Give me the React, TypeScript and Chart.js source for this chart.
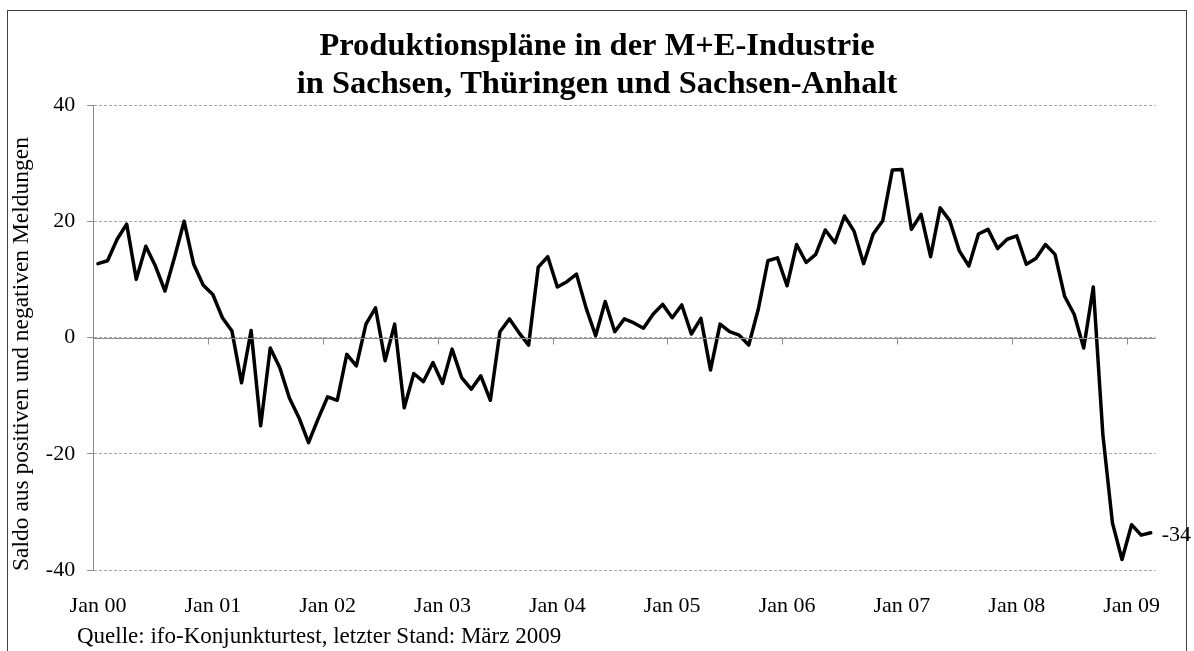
import React, { useEffect, useRef } from "react";
import { Chart, registerables } from "chart.js";

Chart.register(...registerables);

const monthNames = ["Jan", "Feb", "Mrz", "Apr", "Mai", "Jun", "Jul", "Aug", "Sep", "Okt", "Nov", "Dez"];
const yearNames = ["00", "01", "02", "03", "04", "05", "06", "07", "08", "09"];
const tickLabels = ["Jan 00", "Jan 01", "Jan 02", "Jan 03", "Jan 04", "Jan 05", "Jan 06", "Jan 07", "Jan 08", "Jan 09"];

const values2000 = [12.7, 13.2, 16.9, 19.5, 10.0, 15.7, 12.3, 8.0, 13.8, 20.0, 12.6, 9.0];
const values2001 = [7.4, 3.4, 1.1, -7.8, 1.2, -15.2, -1.8, -5.2, -10.4, -13.8, -18.1, -14.0];
const values2002 = [-10.2, -10.8, -2.9, -4.9, 2.3, 5.1, -4.0, 2.3, -12.1, -6.2, -7.6, -4.3];
const values2003 = [-7.9, -2.0, -6.9, -8.9, -6.6, -10.8, 1.0, 3.2, 0.8, -1.3, 12.1, 13.9];
const values2004 = [8.7, 9.6, 10.9, 5.1, 0.3, 6.2, 1.0, 3.2, 2.5, 1.6, 4.0, 5.7];
const values2005 = [3.4, 5.6, 0.6, 3.3, -5.6, 2.3, 1.0, 0.4, -1.3, 4.9, 13.2, 13.7];
const values2006 = [8.9, 16.0, 12.9, 14.3, 18.5, 16.3, 20.9, 18.3, 12.7, 17.8, 20.1, 28.8];
const values2007 = [28.9, 18.6, 21.2, 13.9, 22.3, 20.1, 14.9, 12.3, 17.8, 18.6, 15.3, 16.9];
const values2008 = [17.5, 12.6, 13.6, 16.0, 14.3, 7.1, 4.0, -1.8, 8.7, -16.7, -31.9, -38.2];
const values2009 = [-32.2, -34.0, -33.6];

const seriesValues = [
  ...values2000, ...values2001, ...values2002, ...values2003, ...values2004,
  ...values2005, ...values2006, ...values2007, ...values2008, ...values2009,
];
const categories = yearNames
  .flatMap((y) => monthNames.map((m) => `${m} ${y}`))
  .slice(0, seriesValues.length);

const titleLines = ["Produktionspläne in der M+E-Industrie", "in Sachsen, Thüringen und Sachsen-Anhalt"];
const yAxisTitle = "Saldo aus positiven und negativen Meldungen";
const sourceNote = "Quelle: ifo-Konjunkturtest, letzter Stand: März 2009";

const FONT = "'Liberation Serif', 'Times New Roman', serif";

const extrasPlugin = {
  id: "extras",
  afterDatasetsDraw(chart: any) {
    const { ctx, chartArea, scales } = chart;
    const xs = scales.x;
    const ys = scales.y;
    const y0 = ys.getPixelForValue(0);
    ctx.save();
    ctx.strokeStyle = "#8c8c8c";
    ctx.lineWidth = 1;
    ctx.beginPath();
    ctx.moveTo(chartArea.left, Math.round(y0) + 0.5);
    ctx.lineTo(chartArea.right, Math.round(y0) + 0.5);
    for (let k = 1; k * 12 < categories.length; k++) {
      const xa = xs.getPixelForValue(k * 12 - 1);
      const xb = xs.getPixelForValue(k * 12);
      const xm = Math.round((xa + xb) / 2) + 0.5;
      ctx.moveTo(xm, y0);
      ctx.lineTo(xm, y0 + 7);
    }
    ctx.stroke();
    ctx.restore();
  },
  afterDraw(chart: any) {
    const { ctx, scales } = chart;
    const xs = scales.x;
    const ys = scales.y;
    ctx.save();
    ctx.fillStyle = "#000";
    ctx.font = `23.5px ${FONT}`;
    ctx.textAlign = "center";
    ctx.textBaseline = "middle";
    ctx.translate(22, 354);
    ctx.rotate(-Math.PI / 2);
    ctx.fillText(yAxisTitle, 0, 0);
    ctx.restore();

    ctx.save();
    ctx.fillStyle = "#000";
    ctx.font = `23px ${FONT}`;
    ctx.textAlign = "left";
    ctx.textBaseline = "middle";
    ctx.fillText(sourceNote, 77, 637);
    const lastIdx = seriesValues.length - 1;
    const lastVal = seriesValues[lastIdx];
    ctx.font = `22px ${FONT}`;
    ctx.fillText(
      String(Math.round(lastVal)),
      xs.getPixelForValue(lastIdx) + 11,
      ys.getPixelForValue(lastVal) + 2
    );
    ctx.restore();
  },
};

export default function App() {
  const canvasRef = useRef<HTMLCanvasElement | null>(null);

  useEffect(() => {
    if (!canvasRef.current) return;
    const chart = new Chart(canvasRef.current, {
      type: "line",
      data: {
        labels: categories,
        datasets: [
          {
            data: seriesValues,
            borderColor: "#000000",
            borderWidth: 3.5,
            pointRadius: 0,
            tension: 0,
            fill: false,
            borderJoinStyle: "round",
            borderCapStyle: "round",
          },
        ],
      },
      options: {
        responsive: false,
        animation: false,
        devicePixelRatio: 1,
        layout: { padding: { left: 38.5, right: 38.5, top: 0, bottom: 0 } },
        plugins: {
          legend: { display: false },
          tooltip: { enabled: false },
          title: {
            display: true,
            text: titleLines,
            color: "#000",
            font: { family: FONT, size: 32.5, weight: "bold", lineHeight: 1.18 },
            padding: { top: 27, bottom: 1.3 },
          },
        },
        scales: {
          x: {
            type: "category",
            offset: true,
            grid: { display: false, drawTicks: false },
            border: { display: false },
            ticks: {
              autoSkip: false,
              maxRotation: 0,
              minRotation: 0,
              padding: 23,
              color: "#000",
              font: { family: FONT, size: 22 },
              callback: (_v: any, i: number) => (i % 12 === 0 ? tickLabels[i / 12] : ""),
            },
            afterFit: (scale: any) => {
              scale.height = 81;
            },
          },
          y: {
            min: -40,
            max: 40,
            ticks: {
              stepSize: 20,
              padding: 12,
              color: "#000",
              font: { family: FONT, size: 22 },
            },
            grid: {
              color: "#a6a6a6",
              lineWidth: 1,
              tickColor: "#8c8c8c",
              tickLength: 6,
            },
            border: { display: true, color: "#8c8c8c", width: 1, dash: [3, 2] },
            afterFit: (scale: any) => {
              scale.width = 54.7;
            },
          },
        },
      },
      plugins: [extrasPlugin],
    } as any);
    return () => chart.destroy();
  }, []);

  return (
    <div style={{ position: "fixed", left: 0, top: 0, width: 1194, height: 651, background: "#fff" }}>
      <div
        style={{
          position: "absolute",
          left: 7,
          top: 10,
          width: 1180,
          height: 700,
          border: "1.5px solid #404040",
          boxSizing: "border-box",
        }}
      />
      <canvas
        ref={canvasRef}
        width={1194}
        height={651}
        style={{ position: "absolute", left: 0, top: 0, width: 1194, height: 651 }}
      />
    </div>
  );
}
